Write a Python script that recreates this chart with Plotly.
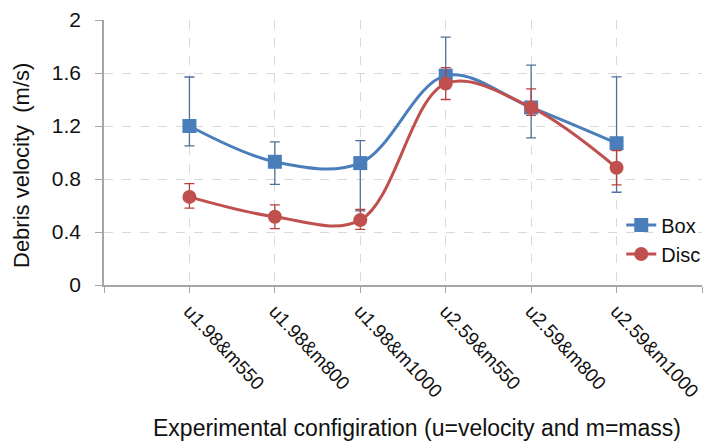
import plotly.graph_objects as go

categories = ["u1.98&m550", "u1.98&m800", "u1.98&m1000", "u2.59&m550", "u2.59&m800", "u2.59&m1000"]
x_pos = [1, 2, 3, 4, 5, 6]

box_vals = [1.20, 0.93, 0.92, 1.58, 1.34, 1.07]
box_err_plus = [0.37, 0.15, 0.17, 0.29, 0.32, 0.50]
box_err_minus = [0.15, 0.17, 0.36, 0.08, 0.23, 0.37]

disc_vals = [0.665, 0.515, 0.49, 1.52, 1.34, 0.885]
disc_err_plus = [0.10, 0.09, 0.08, 0.12, 0.14, 0.13]
disc_err_minus = [0.085, 0.09, 0.07, 0.12, 0.06, 0.13]

y_ticks = [0, 0.4, 0.8, 1.2, 1.6, 2]

x_title = "Experimental configiration (u=velocity and m=mass)"
y_title = "Debris velocity  (m/s)"

BLUE = "#4a7ebb"
RED = "#c0504d"
FONT = "Liberation Sans, Arial, sans-serif"

fig = go.Figure()
fig.add_trace(go.Scatter(
    x=x_pos, y=box_vals, name="Box", mode="lines+markers",
    line=dict(color=BLUE, width=3, shape="spline", smoothing=1),
    marker=dict(symbol="square", size=14, color=BLUE),
    error_y=dict(type="data", symmetric=False, array=box_err_plus, arrayminus=box_err_minus,
                 color="#4f6f9c", thickness=1.3, width=5),
))
fig.add_trace(go.Scatter(
    x=x_pos, y=disc_vals, name="Disc", mode="lines+markers",
    line=dict(color=RED, width=3, shape="spline", smoothing=1),
    marker=dict(symbol="circle", size=14, color=RED),
    error_y=dict(type="data", symmetric=False, array=disc_err_plus, arrayminus=disc_err_minus,
                 color="#b5423f", thickness=1.3, width=5),
))

fig.update_layout(
    width=713, height=444,
    margin=dict(l=104, r=11, t=20, b=159, autoexpand=False),
    paper_bgcolor="white", plot_bgcolor="white",
    font=dict(family=FONT, size=20, color="#111111"),
    legend=dict(x=0.865, y=0.30, xanchor="left", yanchor="top",
                bgcolor="rgba(0,0,0,0)", font=dict(size=20), tracegroupgap=0,
                itemwidth=30),
    showlegend=True,
    annotations=[
        dict(text=x_title, xref="paper", yref="paper", x=(417 - 104) / 598, y=-(428 - 285) / 265,
             xanchor="center", yanchor="middle", showarrow=False, font=dict(size=23)),
        dict(text=y_title, xref="paper", yref="paper", x=-(104 - 21) / 598, y=(285 - 166) / 265,
             xanchor="center", yanchor="middle", showarrow=False, textangle=-90, font=dict(size=22)),
    ],
)
fig.update_xaxes(
    range=[0, 7],
    automargin=False,
    tickmode="array",
    tickvals=[0, 1, 2, 3, 4, 5, 6, 7],
    ticktext=[""] + categories + [""],
    tickangle=47,
    ticks="outside", ticklen=6, tickcolor="#a6a6a6",
    showline=True, linecolor="#a6a6a6", linewidth=1.5,
    showgrid=True, gridcolor="#d9d9d9", griddash="dash", gridwidth=1,
    zeroline=False,
    tickfont=dict(size=19),
)
fig.update_yaxes(
    range=[0, 2],
    automargin=False,
    tickmode="array", tickvals=y_ticks, ticktext=["0", "0.4", "0.8", "1.2", "1.6", "2"],
    ticks="outside", ticklen=7, tickcolor="#a6a6a6",
    showline=True, linecolor="#a6a6a6", linewidth=1.5,
    showgrid=True, gridcolor="#d9d9d9", griddash="dash", gridwidth=1,
    zeroline=False,
    tickfont=dict(size=21),
    ticklabelstandoff=10,
)

fig.write_html("out.html")
